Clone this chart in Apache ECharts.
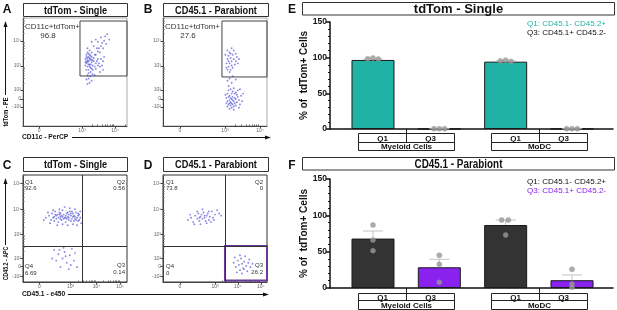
<!DOCTYPE html>
<html>
<head>
<meta charset="utf-8">
<script src="https://cdn.jsdelivr.net/npm/echarts@6.0.0/dist/echarts.min.js"></script>
<style>
html, body { margin: 0; padding: 0; background: #fff; }
#main { width: 617px; height: 310px; }
</style>
</head>
<body>
<div id="main"></div>
<script>
// flow plots: points are in plot units, 0-100 across each plot box
var cloudA = [[61,66],[62,63],[63,60],[61,58],[62,55],[64,57],[65,62],[66,59],[63,52],[65,54],[67,56],[68,60],[66,64],[64,66],[62,68],[60,62],[60,56],[61,52],[63,49],[65,50],[67,52],[69,55],[70,58],[68,63],[69,66],[66,68],[64,70],[62,72],[61,60],[63,64],[65,57],[67,61],[70,53],[72,56],[71,60],[73,58],[74,55],[72,62],[66,53],[64,61],
  [62,47],[65,46],[63,44],[61,43],[66,42],[64,40],[62,39],[67,48],[69,47],
  [70,66],[72,69],[73,72],[75,74],[76,77],[78,79],[79,83],[81,85],[74,68],[77,72],[80,76],[83,80],[71,72],[68,74],[72,78],[75,82],[70,80],[66,78],
  [75,62],[77,60],[76,56],[78,64],[74,50],[77,52],[62,59],[63,57],[64,55],[62,61],[63,67],[65,65],[61,64],[60,59],[64,63],[66,61]];
var cloudB = [[62,70],[64,68],[63,65],[65,63],[66,60],[64,58],[62,62],[67,66],[68,62],[70,60],[66,56],[63,55],[61,58],[65,52],[67,54],[69,57],[71,64],[72,58],[60,66],[62,52],[64,50],[68,70],[70,67],[73,62],[66,72],[61,54],[63,60],[65,67],
  [62,30],[63,27],[64,24],[65,22],[66,25],[67,27],[68,23],[69,21],[65,19],[63,20],[62,23],[64,28],[66,30],[67,20],[68,18],[70,25],[71,22],[72,27],[70,19],[66,17],[64,16],[62,18],[61,26],[63,33],[65,34],[67,32],[69,30],[71,29],[73,24],[74,20],[75,28],[73,17],[68,15],[66,21],[64,21],[65,26],[67,24],[69,26],[70,31],[72,33],[60,29],[61,21],[76,23],[77,30],[74,34],[68,35],[63,37],[66,40],[70,43],[64,44],[62,42],[67,46]];
var cloudC = [[22,60],[25,62],[27,58],[28,64],[30,61],[31,66],[32,59],[33,63],[34,56],[35,65],[36,61],[37,58],[38,67],[39,63],[40,60],[41,56],[42,64],[43,61],[44,58],[45,66],[46,62],[47,59],[48,64],[49,57],[50,61],[51,65],[52,60],[53,57],[54,63],[55,60],[56,55],[55,66],[50,68],[45,69],[40,70],[35,68],[30,57],[26,55],[33,53],[38,54],[43,53],[48,54],[52,53],[29,67],[24,65],[20,58],[36,64],[41,62],[46,57],[51,58],[44,63],[39,59],[34,60],[31,63],[47,66],[53,62],[42,59],[37,62],[49,62],[54,58],
  [32,62],[35,63],[38,61],[43,65],[46,64],[50,59],[53,64],[41,60],[44,60],[48,61],[36,59],[29,60],
  [30,30],[34,26],[38,22],[40,28],[42,18],[45,25],[47,31],[36,14],[44,12],[49,20],[32,20],[50,27],[41,24],[46,16],[39,32],[35,30],[28,22],[52,14]];
var cloudD = [[24,58],[27,60],[29,56],[31,62],[33,59],[34,64],[35,57],[36,61],[37,63],[38,59],[39,65],[40,60],[41,57],[42,62],[43,64],[44,58],[45,61],[47,66],[48,60],[50,63],[52,67],[54,64],[56,62],[30,54],[36,54],[42,55],[46,56],[33,66],[38,68],[26,63],[40,62],[35,60],[44,66],[49,58],
  [68,18],[70,14],[72,20],[73,16],[74,11],[75,22],[76,17],[77,13],[78,19],[79,24],[80,15],[81,10],[82,18],[84,14],[71,9],[76,8],[69,23],[74,25],[78,12],[83,21],[86,17]];

var ticksAx = [[15.4,'0'],[56.7,'10³'],[88.5,'10⁴']];
var ticksAy = [[17.6,'-10²'],[25,'0'],[33.3,'10²'],[55.6,'10³'],[78.7,'10⁴']];
var ticksBx = [[16.3,'0'],[59.6,'10³'],[93.3,'10⁴']];
var ticksCx = [[15.7,'0'],[45.8,'10³'],[70.8,'10⁴'],[93.3,'10⁵']];
var ticksCy = [[5,'-10²'],[14.3,'0'],[22.1,'10²'],[44.6,'10³'],[67.9,'10⁴'],[92.2,'10⁵']];
var ticksDx = [[16.3,'0'],[50,'10³'],[72,'10⁴'],[94,'10⁵']];

var gateA = [[54.8,46.3],[100,97.2]];
var gateB = [[56.7,45.4],[100,97.2]];
var gatePctA = '96.8';
var gatePctB = '27.6';
var quadC = [56.7, 33.6];
var quadD = [59.6, 33.6];
var quadPctC = ['92.6', '0.56', '0.14', '6.69']; // Q1 Q2 Q3 Q4
var quadPctD = ['73.8', '0', '26.2', '0'];

// bar panels
var quads = ['Q1', 'Q3', 'Q1', 'Q3'];
var groups = ['Myeloid Cells', 'MoDC'];
var singleMean = [96.8, 0.2, 94.4, 0.2];
var singleUpper = [98, 0.4, 95.6, 0.4];
var singleDots = [[98.5, 99.5, 98], [0.3, 0.3, 0.3], [95.5, 96.5, 94.8], [0.3, 0.3, 0.3]];
var singleShift = [[-0.08, 0, 0.08], [-0.08, 0, 0.08], [-0.08, 0, 0.08], [-0.08, 0, 0.08]];
var parabMean = [68, 28.5, 86.7, 10.7];
var parabUpper = [78.4, 39.5, 93.6, 17.9];
var parabDots = [[86.7, 66, 51.3], [45, 32.6, 7.8], [93.6, 93.6, 73], [25.7, 5.5, 1]];
var parabShift = [[0, 0, 0], [0, 0, 0], [-0.06, 0.04, 0], [0, 0, 0]];

var teal = '#20b2a5';
var purple = '#8a22ef';
var dark = '#333333';
var FONT = 'Liberation Sans, Arial, sans-serif';

var chart = echarts.init(document.getElementById('main'), null, { renderer: 'canvas' });

function flowAxis(idx, ticks) {
  var vals = ticks.map(function (t) { return t[0]; });
  return {
    gridIndex: idx, type: 'value', min: 0, max: 100,
    axisLine: { show: true, lineStyle: { color: '#444', width: 1 } },
    axisTick: { show: true, customValues: vals, length: 2.5, lineStyle: { color: '#444' } },
    axisLabel: {
      customValues: vals, fontSize: 5, color: '#666', margin: 2, fontFamily: FONT,
      formatter: function (v) {
        for (var i = 0; i < ticks.length; i++) if (Math.abs(ticks[i][0] - v) < 0.01) return ticks[i][1];
        return '';
      }
    },
    splitLine: { show: false }
  };
}
// log-style minor ticks between the labelled decades
function minorAxis(idx, ticks) {
  var dec = ticks.filter(function (t) { return t[1].indexOf('10') === 0; });
  var vals = [];
  for (var i = 0; i < dec.length; i++) {
    var p0 = dec[i][0];
    var step = i + 1 < dec.length ? dec[i + 1][0] - p0 : dec[i][0] - dec[i - 1][0];
    for (var k = 2; k <= 9; k++) {
      var v = p0 + Math.log10(k) * step;
      if (v < 100) vals.push(v);
    }
  }
  return {
    gridIndex: idx, type: 'value', min: 0, max: 100,
    axisLine: { show: false },
    axisTick: { show: true, customValues: vals, length: 1.5, lineStyle: { color: '#666' } },
    axisLabel: { show: false }, splitLine: { show: false }
  };
}

function barX(idx) {
  return {
    gridIndex: idx, type: 'value', min: 0.352, max: 4.618,
    axisLine: { show: true, onZero: false, lineStyle: { color: '#111', width: 1.5 } },
    axisTick: { show: false }, axisLabel: { show: false }, splitLine: { show: false }
  };
}
function barY(idx) {
  return {
    gridIndex: idx, type: 'value', min: 0, max: 150, interval: 50,
    axisLine: { show: true, lineStyle: { color: '#111', width: 1.5 } },
    axisTick: { show: true, length: 4, lineStyle: { color: '#111', width: 1.5 } },
    minorTick: { show: true, splitNumber: 5, length: 2, lineStyle: { color: '#111' } },
    axisLabel: { fontSize: 8.5, fontWeight: 'bold', color: '#111', margin: 3, fontFamily: FONT },
    splitLine: { show: false },
    name: '% of  tdTom+ Cells', nameLocation: 'middle', nameGap: 16,
    nameTextStyle: { fontSize: 10, fontWeight: 'bold', color: '#111', fontFamily: FONT }
  };
}

function cloud(idx, pts, extra) {
  return Object.assign({
    type: 'scatter', xAxisIndex: idx, yAxisIndex: idx, data: pts,
    symbolSize: 1.9, itemStyle: { color: '#3a3ad0', opacity: 0.6 }, silent: true
  }, extra || {});
}

function gateArea(g, color, width) {
  return {
    silent: true,
    itemStyle: { color: 'rgba(0,0,0,0)', borderColor: color, borderWidth: width },
    data: [[{ coord: g[0] }, { coord: g[1] }]]
  };
}
function quadLines(q) {
  return {
    silent: true, symbol: 'none', label: { show: false },
    lineStyle: { color: '#333', width: 1, type: 'solid' },
    data: [{ xAxis: q[0] }, { yAxis: q[1] }]
  };
}

function errItem(params, api) {
  var x = api.value(0);
  var lo = api.coord([x, api.value(1)]);
  var hi = api.coord([x, api.value(2)]);
  var st = { stroke: '#c4c4c4', lineWidth: 1 };
  return {
    type: 'group', children: [
      { type: 'line', shape: { x1: lo[0], y1: lo[1], x2: hi[0], y2: hi[1] }, style: st },
      { type: 'line', shape: { x1: hi[0] - 10, y1: hi[1], x2: hi[0] + 10, y2: hi[1] }, style: st }
    ]
  };
}

function barPanel(k, mean, upper, dots, shift, colors) {
  var pts = [];
  dots.forEach(function (d, i) {
    d.forEach(function (v, j) { pts.push([i + 1 + shift[i][j], v]); });
  });
  return [
    {
      type: 'bar', xAxisIndex: k, yAxisIndex: k, barWidth: 43,
      itemStyle: { borderColor: '#1a1a1a', borderWidth: 1 },
      data: mean.map(function (v, i) { return { value: [i + 1, v], itemStyle: { color: colors[i] } }; })
    },
    {
      type: 'custom', xAxisIndex: k, yAxisIndex: k, renderItem: errItem, z: 3,
      data: mean.map(function (v, i) { return [i + 1, v, upper[i]]; })
    },
    {
      type: 'scatter', xAxisIndex: k, yAxisIndex: k, data: pts, z: 4,
      symbolSize: 5, itemStyle: { color: '#9a9a9a', borderColor: '#8a8a8a', borderWidth: 0.5 }
    }
  ];
}

var series = [
  cloud(0, cloudA, { markArea: gateArea(gateA, '#444', 1) }),
  cloud(1, cloudB, { markArea: gateArea(gateB, '#444', 1) }),
  cloud(2, cloudC, { markLine: quadLines(quadC) }),
  cloud(3, cloudD, { markLine: quadLines(quadD), markArea: gateArea([[quadD[0], 1.5], [100, quadD[1]]], '#6a3a9c', 2) })
].concat(
  barPanel(4, singleMean, singleUpper, singleDots, singleShift, [teal, '#222', teal, '#222']),
  barPanel(5, parabMean, parabUpper, parabDots, parabShift, [dark, purple, dark, purple])
);

chart.setOption({
  animation: false,
  textStyle: { fontFamily: FONT },
  grid: [
    { left: 23, top: 18, width: 104, height: 108, show: true, borderColor: '#aaa', borderWidth: 1 },
    { left: 163, top: 18, width: 104, height: 108, show: true, borderColor: '#aaa', borderWidth: 1 },
    { left: 23, top: 175, width: 104, height: 107, show: true, borderColor: '#333', borderWidth: 1 },
    { left: 163, top: 175, width: 104, height: 107, show: true, borderColor: '#333', borderWidth: 1 },
    { left: 330, top: 22, width: 283, height: 107 },
    { left: 330, top: 179, width: 283, height: 109 }
  ],
  xAxis: [flowAxis(0, ticksAx), flowAxis(1, ticksBx), flowAxis(2, ticksCx), flowAxis(3, ticksDx), barX(4), barX(5),
    minorAxis(0, ticksAx), minorAxis(1, ticksBx), minorAxis(2, ticksCx), minorAxis(3, ticksDx)],
  yAxis: [flowAxis(0, ticksAy), flowAxis(1, ticksAy), flowAxis(2, ticksCy), flowAxis(3, ticksCy), barY(4), barY(5),
    minorAxis(0, ticksAy), minorAxis(1, ticksAy), minorAxis(2, ticksCy), minorAxis(3, ticksCy)],
  series: series
});

// ---- annotations ----
function txt(x, y, s, size, opts) {
  opts = opts || {};
  var al = opts.align || 'left';
  var el = {
    type: 'text', x: x, y: y, silent: true,
    style: {
      text: s, font: (opts.bold ? 'bold ' : '') + size + 'px ' + FONT, fill: opts.fill || '#111',
      align: al, verticalAlign: 'middle', textAlign: al, textVerticalAlign: 'middle'
    }
  };
  if (opts.scaleX) el.scaleX = opts.scaleX;
  if (opts.rotation) el.rotation = opts.rotation;
  return el;
}
function rect(x, y, w, h, stroke) {
  return { type: 'rect', silent: true, shape: { x: x, y: y, width: w, height: h }, style: { fill: '#fff', stroke: stroke || '#333', lineWidth: 1 } };
}
function line(x1, y1, x2, y2, color, w) {
  return { type: 'line', silent: true, shape: { x1: x1, y1: y1, x2: x2, y2: y2 }, style: { stroke: color || '#111', lineWidth: w || 1 } };
}
function head(pts) {
  return { type: 'polygon', silent: true, shape: { points: pts }, style: { fill: '#111' } };
}
function titleBox(x, y, w, h, s, size, sx) {
  return [rect(x, y, w, h), txt(x + w / 2, y + h / 2 + 0.5, s, size, { bold: true, align: 'center', scaleX: sx })];
}

var g = [];
// panel letters
[['A', 7, 10], ['B', 148, 10], ['C', 7, 166], ['D', 148, 166], ['E', 292, 10], ['F', 292, 166]].forEach(function (p) {
  g.push(txt(p[1], p[2], p[0], 12, { bold: true, align: 'center' }));
});
g = g.concat(
  titleBox(23.5, 3.5, 104, 13, 'tdTom - Single', 11.5, 0.8),
  titleBox(163.5, 3.5, 105, 13, 'CD45.1 - Parabiont', 11.5, 0.8),
  titleBox(23.5, 157.5, 104, 14, 'tdTom - Single', 11.5, 0.8),
  titleBox(163.5, 157.5, 105, 14, 'CD45.1 - Parabiont', 11.5, 0.8),
  titleBox(302.5, 2.5, 312, 12.5, 'tdTom - Single', 13, 1.0),
  titleBox(302.5, 157.5, 312, 12.5, 'CD45.1 - Parabiont', 13, 0.76)
);
// flow axis titles and arrows
g.push(txt(6, 112, 'tdTom - PE', 7, { bold: true, align: 'center', rotation: Math.PI / 2, scaleX: 0.8 }));
g.push(line(5.5, 95, 5.5, 26), head([[5.5, 21], [3.5, 27], [7.5, 27]]));
g.push(txt(22, 137, 'CD11c - PerCP', 7, { bold: true, scaleX: 0.95 }));
g.push(line(72, 137.5, 266, 137.5), head([[271, 137.5], [265, 135.5], [265, 139.5]]));
g.push(txt(6, 263.5, 'CD45.2 - APC', 7, { bold: true, align: 'center', rotation: Math.PI / 2, scaleX: 0.75 }));
g.push(line(5.5, 245, 5.5, 183), head([[5.5, 178], [3.5, 184], [7.5, 184]]));
g.push(txt(22, 294, 'CD45.1 - e450', 7, { bold: true, scaleX: 0.95 }));
g.push(line(68, 294.5, 264, 294.5), head([[269, 294.5], [263, 292.5], [263, 296.5]]));
// gate labels
g.push(txt(25, 27, 'CD11c+tdTom+', 8, { fill: '#333' }), txt(48, 35.5, gatePctA, 8, { fill: '#333', align: 'center' }));
g.push(txt(165, 27, 'CD11c+tdTom+', 8, { fill: '#333' }), txt(188, 35.5, gatePctB, 8, { fill: '#333', align: 'center' }));
function quadText(l, r, pct) {
  return [
    txt(l, 182, 'Q1', 6, { fill: '#333' }), txt(l, 188, pct[0], 6, { fill: '#333' }),
    txt(r, 182, 'Q2', 6, { fill: '#333', align: 'right' }), txt(r, 188, pct[1], 6, { fill: '#333', align: 'right' }),
    txt(r, 265.5, 'Q3', 6, { fill: '#333', align: 'right' }), txt(r, 272, pct[2], 6, { fill: '#333', align: 'right' }),
    txt(l, 266.5, 'Q4', 6, { fill: '#333' }), txt(l, 273, pct[3], 6, { fill: '#333' })
  ];
}
g = g.concat(quadText(25, 125, quadPctC), quadText(166, 263, quadPctD));
// legends of bar panels
g.push(txt(606, 24, 'Q1: CD45.1- CD45.2+', 8, { fill: teal, align: 'right' }));
g.push(txt(606, 33, 'Q3: CD45.1+ CD45.2-', 8, { fill: '#111', align: 'right' }));
g.push(txt(606, 182, 'Q1: CD45.1- CD45.2+', 8, { fill: '#111', align: 'right' }));
g.push(txt(606, 190.5, 'Q3: CD45.1+ CD45.2-', 8, { fill: purple, align: 'right' }));

// category boxes under the bars, placed from the axis scale
function catBoxes(k, rows) {
  var out = [];
  groups.forEach(function (name, gi) {
    var c = 1.5 + 2 * gi;
    var y0 = chart.convertToPixel({ gridIndex: k }, [c, 0])[1];
    var l = Math.round(chart.convertToPixel({ gridIndex: k }, [c - 0.72, 0])[0]) + 0.5;
    var m = Math.round(chart.convertToPixel({ gridIndex: k }, [c, 0])[0]) + 0.5;
    var r = Math.round(chart.convertToPixel({ gridIndex: k }, [c + 0.72, 0])[0]) + 0.5;
    var a = Math.round(y0 + rows[0]) + 0.5, b = Math.round(y0 + rows[1]) + 0.5, e = Math.round(y0 + rows[2]) + 0.5;
    out.push(rect(l, a, r - l, b - a, '#222'), rect(l, b, r - l, e - b, '#222'));
    out.push(line(m, y0, m, b, '#222'));
    out.push(txt((l + m) / 2, (a + b) / 2 + 0.5, quads[2 * gi], 8, { bold: true, align: 'center' }));
    out.push(txt((m + r) / 2, (a + b) / 2 + 0.5, quads[2 * gi + 1], 8, { bold: true, align: 'center' }));
    out.push(txt((l + r) / 2, (b + e) / 2 + 0.5, name, 8, { bold: true, align: 'center' }));
  });
  return out;
}
g = g.concat(catBoxes(4, [4, 13, 21]), catBoxes(5, [5, 12, 21]));

chart.setOption({ graphic: { elements: g } });
</script>
</body>
</html>
